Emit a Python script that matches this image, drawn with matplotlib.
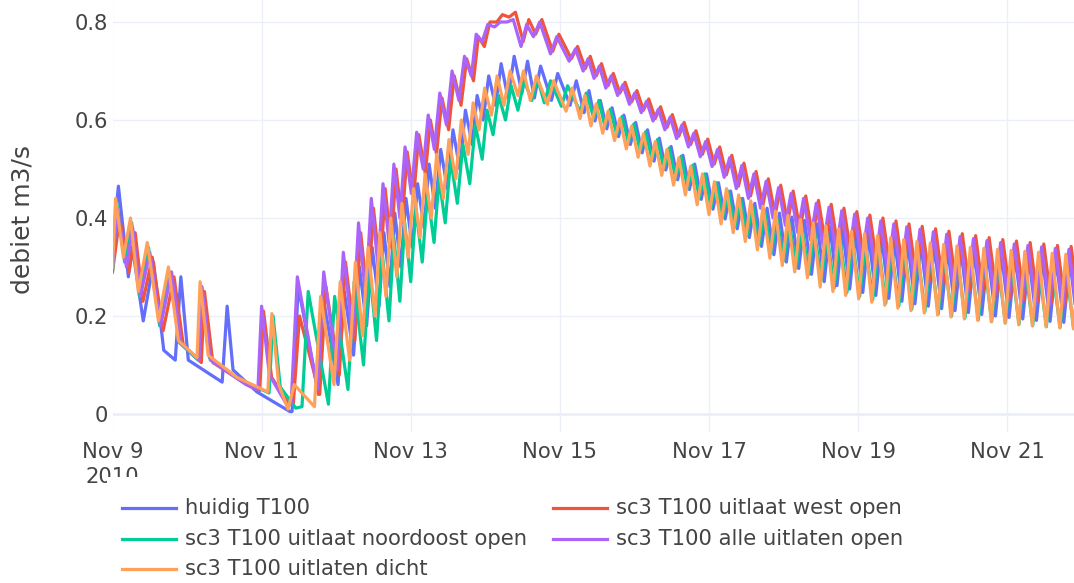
import numpy as np
import pandas as pd
import matplotlib
matplotlib.use("Agg")
import matplotlib.pyplot as plt
from matplotlib.lines import Line2D
from matplotlib.patches import Rectangle

plt.rcParams['font.family'] = ['DejaVu Sans']

start = pd.Timestamp("2010-11-09 00:00")

names = ["huidig T100", "sc3 T100 uitlaat west open", "sc3 T100 uitlaat noordoost open",
         "sc3 T100 alle uitlaten open", "sc3 T100 uitlaten dicht"]
colors = ["#636efa", "#EF553B", "#00cc96", "#ab63fa", "#FFA15A"]

tick_days = [9, 11, 13, 15, 17, 19, 21]
tick_labels = ["Nov 9\n2010", "Nov 11", "Nov 13", "Nov 15", "Nov 17", "Nov 19", "Nov 21"]

# first days (Nov 9 - Nov 11): hours since start, value
p1_hours_blue = [0.3, 1.9, 5.1, 6.4, 9.9, 13.2, 16.5, 20.2, 22.0, 24.4, 35.3, 36.9, 38.8, 46.5, 57.1]
p1_vals_blue = [0.36, 0.465, 0.28, 0.34, 0.19, 0.31, 0.13, 0.11, 0.28, 0.11, 0.065, 0.22, 0.09, 0.045, 0.005]
p1_hours_red = [0, 2.3, 5.3, 7.3, 9.8, 12.8, 16.3, 19.8, 22.8, 28.6, 29.6, 32.3, 43.8, 47.4, 48.6, 51.2, 56.8]
p1_vals_red = [0.29, 0.40, 0.29, 0.37, 0.23, 0.32, 0.17, 0.28, 0.14, 0.105, 0.25, 0.105, 0.058, 0.048, 0.21, 0.075, 0.02]
p1_hours_green = [0, 1.4, 3.9, 6.2, 8.7, 11.6, 15.2, 18.4, 21.6, 27.6, 28.6, 31.2, 40.4, 50.4, 51.7, 54.0, 59.0]
p1_vals_green = [0.29, 0.43, 0.31, 0.39, 0.24, 0.34, 0.18, 0.29, 0.145, 0.11, 0.26, 0.115, 0.072, 0.043, 0.2, 0.055, 0.012]
p1_hours_purple = [0, 1.5, 4.5, 6.5, 9.0, 12.0, 15.5, 19.0, 22.0, 27.8, 28.8, 31.5, 43.0, 46.8, 48.0, 50.5, 56.0]
p1_vals_purple = [0.30, 0.42, 0.30, 0.38, 0.24, 0.33, 0.18, 0.29, 0.145, 0.11, 0.26, 0.11, 0.06, 0.05, 0.22, 0.08, 0.02]
p1_hours_orange = [0, 1.0, 3.5, 5.8, 8.3, 11.2, 14.8, 18.0, 21.2, 27.2, 28.2, 30.8, 40.0, 50.0, 51.3, 53.5]
p1_vals_orange = [0.30, 0.44, 0.32, 0.40, 0.25, 0.35, 0.19, 0.30, 0.15, 0.115, 0.27, 0.12, 0.075, 0.045, 0.205, 0.06]

# later days: start hour of each discharge cycle
cycle_hours = [57.5, 66, 72.3, 77.3, 81.5, 85.5, 89, 92.5, 96.2, 100,
               103.6, 107.5, 111.5, 115.5, 119, 123, 127, 131.5, 135.5, 141,
               147, 151.5, 155, 158.8, 162.6, 166.4, 170.2, 174, 177.8, 181.6,
               185.4, 189.2, 193, 196.9, 200.8, 204.7, 208.6, 212.6, 216.6, 220.6,
               224.7, 228.8, 232.9, 237, 241.2, 245.4, 249.6, 253.8, 258, 262.3,
               266.6, 270.9, 275.2, 279.5, 283.9, 288.3, 292.7, 297.1, 301.5, 305.9,
               310.3]
lag_blue, lag_red, lag_green, lag_purple, lag_orange = 0.3, 0.7, 3.5, 0.0, -1.0

troughs_blue = [0.005, 0.04, 0.06, 0.12, 0.18, 0.22, 0.26, 0.30, 0.34, 0.38,
                0.42, 0.46, 0.50, 0.55, 0.60, 0.63, 0.645, 0.655, 0.645, 0.64,
                0.63, 0.615, 0.598, 0.582, 0.566, 0.55, 0.533, 0.516, 0.498, 0.478,
                0.458, 0.438, 0.418, 0.398, 0.378, 0.36, 0.342, 0.325, 0.31, 0.297,
                0.285, 0.27, 0.262, 0.255, 0.248, 0.242, 0.236, 0.23, 0.225, 0.22,
                0.215, 0.211, 0.207, 0.203, 0.20, 0.197, 0.194, 0.191, 0.189, 0.187,
                0.185]
peaks_blue = [0.26, 0.22, 0.25, 0.30, 0.34, 0.37, 0.41, 0.44, 0.47, 0.51,
              0.54, 0.58, 0.62, 0.65, 0.69, 0.715, 0.73, 0.72, 0.71, 0.695,
              0.68, 0.66, 0.64, 0.625, 0.61, 0.595, 0.58, 0.563, 0.546, 0.528,
              0.51, 0.49, 0.472, 0.455, 0.44, 0.43, 0.42, 0.41, 0.402, 0.395,
              0.388, 0.382, 0.376, 0.37, 0.365, 0.36, 0.355, 0.35, 0.346, 0.342,
              0.338, 0.334, 0.33, 0.327, 0.324, 0.321, 0.318, 0.316, 0.314, 0.312,
              0.31]
troughs_red = [0.02, 0.04, 0.08, 0.15, 0.23, 0.29, 0.34, 0.39, 0.44, 0.49,
               0.53, 0.58, 0.63, 0.68, 0.75, 0.80, 0.81, 0.76, 0.775, 0.74,
               0.725, 0.705, 0.69, 0.67, 0.655, 0.637, 0.62, 0.603, 0.585, 0.567,
               0.55, 0.53, 0.51, 0.488, 0.465, 0.445, 0.425, 0.405, 0.39, 0.375,
               0.36, 0.347, 0.335, 0.325, 0.315, 0.305, 0.295, 0.287, 0.279, 0.272,
               0.265, 0.259, 0.253, 0.248, 0.243, 0.238, 0.234, 0.23, 0.226, 0.223,
               0.22]
peaks_red = [0.20, 0.26, 0.31, 0.37, 0.42, 0.46, 0.50, 0.535, 0.57, 0.60,
             0.645, 0.69, 0.725, 0.77, 0.80, 0.815, 0.82, 0.805, 0.805, 0.775,
             0.75, 0.73, 0.715, 0.695, 0.677, 0.66, 0.643, 0.627, 0.611, 0.595,
             0.578, 0.561, 0.545, 0.528, 0.512, 0.495, 0.48, 0.467, 0.455, 0.445,
             0.436, 0.428, 0.42, 0.413, 0.406, 0.40, 0.394, 0.388, 0.383, 0.378,
             0.373, 0.368, 0.364, 0.36, 0.356, 0.353, 0.35, 0.347, 0.344, 0.342,
             0.34]
troughs_green = [0.015, 0.02, 0.05, 0.10, 0.15, 0.19, 0.23, 0.27, 0.31, 0.35,
                 0.39, 0.43, 0.47, 0.52, 0.57, 0.60, 0.62, 0.64, 0.635, 0.628,
                 0.618, 0.603, 0.587, 0.571, 0.554, 0.537, 0.519, 0.50, 0.481, 0.461,
                 0.441, 0.421, 0.401, 0.382, 0.364, 0.346, 0.329, 0.313, 0.298, 0.285,
                 0.273, 0.257, 0.248, 0.24, 0.233, 0.226, 0.22, 0.214, 0.209, 0.204,
                 0.20, 0.196, 0.192, 0.189, 0.186, 0.183, 0.18, 0.178, 0.176, 0.174,
                 0.172]
peaks_green = [0.25, 0.24, 0.27, 0.30, 0.33, 0.36, 0.39, 0.42, 0.45, 0.48,
               0.52, 0.55, 0.59, 0.62, 0.65, 0.67, 0.68, 0.685, 0.68, 0.67,
               0.655, 0.64, 0.622, 0.607, 0.592, 0.576, 0.56, 0.543, 0.526, 0.508,
               0.49, 0.472, 0.455, 0.44, 0.425, 0.412, 0.40, 0.39, 0.381, 0.373,
               0.366, 0.36, 0.354, 0.349, 0.344, 0.339, 0.334, 0.33, 0.326, 0.322,
               0.318, 0.315, 0.312, 0.309, 0.306, 0.303, 0.30, 0.298, 0.296, 0.294,
               0.292]
troughs_purple = [0.02, 0.05, 0.09, 0.16, 0.24, 0.30, 0.35, 0.40, 0.45, 0.50,
                  0.54, 0.59, 0.64, 0.69, 0.76, 0.79, 0.80, 0.75, 0.77, 0.735,
                  0.72, 0.70, 0.685, 0.665, 0.65, 0.632, 0.615, 0.598, 0.58, 0.562,
                  0.545, 0.525, 0.505, 0.483, 0.46, 0.44, 0.42, 0.40, 0.385, 0.37,
                  0.355, 0.342, 0.33, 0.32, 0.31, 0.30, 0.29, 0.282, 0.274, 0.267,
                  0.26, 0.254, 0.248, 0.243, 0.238, 0.233, 0.229, 0.225, 0.221, 0.218,
                  0.215]
peaks_purple = [0.28, 0.29, 0.33, 0.39, 0.44, 0.47, 0.51, 0.545, 0.575, 0.61,
                0.655, 0.70, 0.73, 0.775, 0.795, 0.80, 0.805, 0.795, 0.80, 0.77,
                0.745, 0.725, 0.71, 0.69, 0.672, 0.655, 0.638, 0.622, 0.606, 0.59,
                0.573, 0.556, 0.54, 0.523, 0.507, 0.49, 0.475, 0.462, 0.45, 0.44,
                0.43, 0.422, 0.415, 0.408, 0.40, 0.394, 0.388, 0.382, 0.377, 0.372,
                0.367, 0.362, 0.358, 0.354, 0.35, 0.347, 0.344, 0.341, 0.338, 0.336,
                0.334]
troughs_orange = [0.01, 0.015, 0.06, 0.11, 0.16, 0.20, 0.24, 0.28, 0.32, 0.36,
                  0.40, 0.44, 0.48, 0.53, 0.58, 0.61, 0.63, 0.65, 0.64, 0.632,
                  0.618, 0.603, 0.588, 0.573, 0.558, 0.541, 0.524, 0.506, 0.487, 0.467,
                  0.447, 0.427, 0.407, 0.388, 0.37, 0.352, 0.335, 0.318, 0.303, 0.29,
                  0.278, 0.259, 0.25, 0.242, 0.235, 0.228, 0.222, 0.216, 0.211, 0.206,
                  0.202, 0.198, 0.194, 0.191, 0.188, 0.185, 0.182, 0.18, 0.178, 0.176,
                  0.174]
peaks_orange = [0.06, 0.24, 0.27, 0.31, 0.34, 0.37, 0.40, 0.43, 0.46, 0.49,
                0.53, 0.56, 0.60, 0.635, 0.665, 0.69, 0.70, 0.70, 0.69, 0.68,
                0.665, 0.65, 0.633, 0.618, 0.603, 0.588, 0.572, 0.556, 0.54, 0.523,
                0.506, 0.49, 0.474, 0.46, 0.447, 0.435, 0.424, 0.414, 0.405, 0.397,
                0.39, 0.384, 0.378, 0.373, 0.368, 0.364, 0.36, 0.356, 0.352, 0.349,
                0.346, 0.343, 0.34, 0.338, 0.336, 0.334, 0.332, 0.33, 0.328, 0.326,
                0.325]


def build(p1_h, p1_v, lag, troughs, peaks):
    c = np.array(cycle_hours) + lag
    period = np.diff(np.append(c, c[-1] + 4.4))
    rise = np.minimum(0.45 * period, 2.0)
    t = np.column_stack([c, c + rise]).ravel()
    v = np.column_stack([troughs, peaks]).ravel()
    hours = np.concatenate([p1_h, t])
    vals = np.concatenate([p1_v, v])
    return start + pd.to_timedelta(hours, unit="h"), vals


series = [
    build(p1_hours_blue, p1_vals_blue, lag_blue, troughs_blue, peaks_blue),
    build(p1_hours_red, p1_vals_red, lag_red, troughs_red, peaks_red),
    build(p1_hours_green, p1_vals_green, lag_green, troughs_green, peaks_green),
    build(p1_hours_purple, p1_vals_purple, lag_purple, troughs_purple, peaks_purple),
    build(p1_hours_orange, p1_vals_orange, lag_orange, troughs_orange, peaks_orange),
]

W, H = 1074, 583
fig = plt.figure(figsize=(W / 100, H / 100), dpi=100)
left, right, top, bottom = 112.5, 1074, 0, 432
ax = fig.add_axes([left / W, 1 - bottom / H, (right - left) / W, (bottom - top) / H])

txt = "#444444"
grid = "#EBF0F8"

for (t, v), c in zip(series, colors):
    ax.plot(t, v, color=c, lw=2.3, solid_joinstyle="round", zorder=3)

ax.set_xlim(start, start + pd.Timedelta(hours=309.5))
# 0 at pixel 414, 0.8 at pixel 22
per_px = 0.8 / (414 - 22)
ax.set_ylim(-(bottom - 414) * per_px, 414 * per_px)

ax.set_xticks([pd.Timestamp(2010, 11, d) for d in tick_days])
ax.set_xticklabels(tick_labels)
ax.set_yticks([0, 0.2, 0.4, 0.6, 0.8])
ax.set_yticklabels(["0", "0.2", "0.4", "0.6", "0.8"])
ax.tick_params(axis="both", length=0, labelcolor=txt, labelsize=15.2)
ax.tick_params(axis="x", pad=7.5)
ax.tick_params(axis="y", pad=3)
for lab in ax.get_xticklabels():
    lab.set_linespacing(1.3)

ax.grid(True, color=grid, lw=1, zorder=0)
ax.axhline(0, color=grid, lw=2, zorder=1)
for s in ax.spines.values():
    s.set_visible(False)

fig.text(23 / W, 1 - 220 / H, "debiet m3/s", rotation=90, color=txt, fontsize=18,
         va="center", ha="center")

# legend box (white background covers the lower part of the year label)
fig.add_artist(Rectangle((107 / W, 0), 1, (H - 477) / H, transform=fig.transFigure,
                         facecolor="white", edgecolor="none", zorder=2))
col_x = [122, 553]
row_y = [508, 539, 569]
for i, (name, c) in enumerate(zip(names, colors)):
    x0 = col_x[i % 2]
    y0 = row_y[i // 2]
    fig.add_artist(Line2D([x0 / W, (x0 + 54) / W], [1 - y0 / H] * 2, color=c, lw=2.3,
                          transform=fig.transFigure, zorder=3))
    fig.text((x0 + 63) / W, 1 - y0 / H, name, color=txt, fontsize=15.2,
             va="center", ha="left", zorder=3)

fig.savefig("out.png", dpi=100)
